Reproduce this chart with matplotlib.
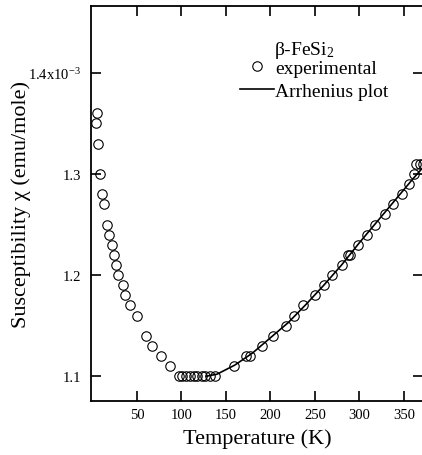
import numpy as np
import matplotlib
matplotlib.use("Agg")
import matplotlib.pyplot as plt

plt.rcParams['font.family'] = ['Liberation Serif', 'DejaVu Serif']
plt.rcParams['mathtext.fontset'] = 'custom'
plt.rcParams['mathtext.rm'] = 'Liberation Serif'
plt.rcParams['mathtext.it'] = 'Liberation Serif:italic'

# measured susceptibility (in 1e-3 emu/mole)
T_exp = [4, 4.8, 6.6, 8.5, 11, 13, 16.5, 18.7, 21.8, 24.4, 26.3, 29.2, 34, 37,
         42.4, 50, 60, 67, 77, 87.6,
         97, 101, 105, 110, 114, 118, 123, 127, 132, 137.7,
         159, 173, 177, 191, 202.5, 217, 227, 237, 250, 260, 269.5, 280, 287,
         289, 298, 308, 317, 328.6, 338, 348, 356, 361, 364, 368, 371]
chi_exp = [1.35, 1.36, 1.33, 1.30, 1.28, 1.27, 1.25, 1.24, 1.23, 1.22, 1.21,
           1.20, 1.19, 1.18, 1.17, 1.16, 1.14, 1.13, 1.12, 1.11,
           1.10, 1.10, 1.10, 1.10, 1.10, 1.10, 1.10, 1.10, 1.10, 1.10,
           1.11, 1.12, 1.12, 1.13, 1.14, 1.15, 1.16, 1.17, 1.18, 1.19, 1.20,
           1.21, 1.22, 1.22, 1.23, 1.24, 1.25, 1.26, 1.27, 1.28, 1.29, 1.30,
           1.31, 1.31, 1.31]

# Arrhenius fit curve
T_fit = [128, 140, 160, 180, 200, 220, 240, 260, 280, 300, 320, 340, 360, 372]
chi_fit = [1.100, 1.102, 1.111, 1.123, 1.138, 1.153, 1.171, 1.190, 1.210,
           1.232, 1.253, 1.274, 1.295, 1.307]

xticks = [50, 100, 150, 200, 250, 300, 350]
yticks = [1.1, 1.2, 1.3, 1.4]
ytick_labels = ["1.1", "1.2", "1.3", r"1.4x10$^{\mathrm{-3}}$"]

fig = plt.figure(figsize=(4.22, 4.56), dpi=100)
ax = fig.add_axes([0.2149, 0.1178, 1.0024 - 0.2149, 0.9853 - 0.1178])

ax.plot(T_exp, chi_exp, 'o', mfc='none', mec='black', ms=6.8, mew=0.8,
        label='experimental')
ax.plot(T_fit, chi_fit, '-', color='black', lw=1.2, label='Arrhenius plot')

ax.set_xlim(-2, 371.5)
ax.set_ylim(1.0752, 1.4664)
ax.set_xticks(xticks)
ax.set_yticks(yticks)
ax.set_yticklabels(ytick_labels)
ax.tick_params(direction='in', length=7, width=1.2, top=True, right=True,
               labelsize=10.5, pad=5)
ax.tick_params(axis='y', pad=7)
for s in ax.spines.values():
    s.set_linewidth(1.3)

ax.set_xlabel("Temperature (K)", fontsize=16, labelpad=5)
ax.set_ylabel("Susceptibility χ (emu/mole)", fontsize=16)
ax.yaxis.set_label_coords(-0.18, 0.5)

ax.text(0.552, 0.89, r"β-FeSi$_{2}$", transform=ax.transAxes,
        fontsize=14, va='center', ha='left')
ax.legend(loc='upper left', bbox_to_anchor=(0.45, 0.865), frameon=False,
          fontsize=14, handlelength=1.75, handletextpad=0.05,
          labelspacing=0.27, borderaxespad=0, borderpad=0)

fig.savefig("out.png", dpi=100)
